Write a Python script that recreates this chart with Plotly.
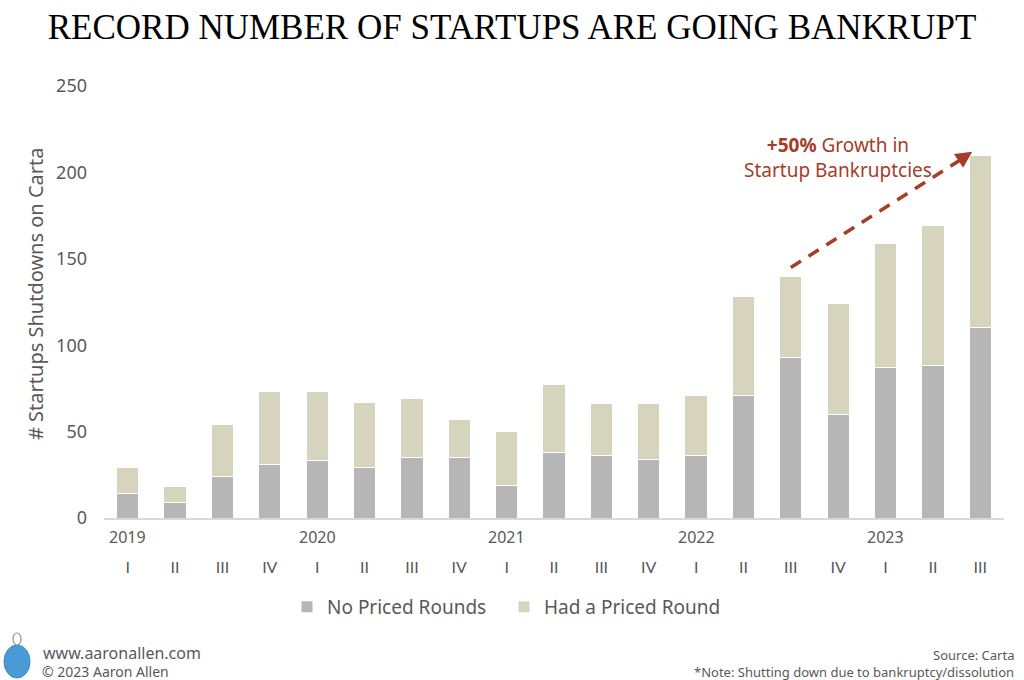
import plotly.graph_objects as go

years = ["2019", "2020", "2021", "2022", "2023"]
quarters = ["I", "II", "III", "IV", "I", "II", "III", "IV", "I", "II", "III", "IV",
            "I", "II", "III", "IV", "I", "II", "III"]
period_year = ["2019"] * 4 + ["2020"] * 4 + ["2021"] * 4 + ["2022"] * 4 + ["2023"] * 3
categories = [f"{y} {q}" for y, q in zip(period_year, quarters)]

no_priced = [14, 9, 24, 31, 33, 29, 35, 35, 19, 38, 36, 34, 36, 71, 93, 60, 87, 88, 110]
had_priced = [15, 9, 30, 42, 40, 38, 34, 22, 31, 39, 30, 32, 35, 57, 47, 64, 72, 81, 100]

FONT = "'Noto Sans', Lato, sans-serif"
GRAY_TXT = "#595959"
RED = "#a53d27"

L, R, T, B = 104, 20, 86, 162
PW, PH = 1024 - L - R, 680 - T - B


def px(xp):
    return (xp - L) / PW


def py(yp):
    return (680 - B - yp) / PH


fig = go.Figure()
fig.add_trace(go.Bar(x=categories, y=no_priced, name="No Priced Rounds",
                     marker=dict(color="#b6b6b6", line=dict(color="white", width=1))))
fig.add_trace(go.Bar(x=categories, y=had_priced, name="Had a Priced Round",
                     marker=dict(color="#d7d4be", line=dict(color="white", width=1))))

annotations = []
# year labels under the first quarter of each year
for y in years:
    idx = period_year.index(y)
    annotations.append(dict(x=categories[idx], y=0, xref="x", yref="paper", yshift=-19,
                            text=y, showarrow=False, xanchor="center", yanchor="middle",
                            font=dict(family=FONT, size=16, color=GRAY_TXT)))

# y axis title
annotations.append(dict(x=px(35), y=py(294), xref="paper", yref="paper", textangle=-90,
                        xanchor="center", yanchor="middle",
                        text="# Startups Shutdowns on Carta", showarrow=False,
                        font=dict(family=FONT, size=20, color=GRAY_TXT)))

# growth annotation text
annotations.append(dict(x=px(838), y=py(157), xref="paper", yref="paper",
                        xanchor="center", yanchor="middle",
                        text="<b>+50%</b> Growth in<br>Startup Bankruptcies", showarrow=False,
                        align="center", font=dict(family=FONT, size=19, color=RED)))

# arrow line (dashed) from bar 15 top to bar 19 top
x0, y0 = 14.0, 145
x1, y1 = 17.83, 212
fig.add_shape(type="line", xref="x", yref="y", x0=x0, y0=y0, x1=x1 - 0.12, y1=y1 - 2.5,
              line=dict(color=RED, width=3.5, dash="12px,9px"))
annotations.append(dict(x=x1, y=y1, xref="x", yref="y", ax=-9, ay=6, text="",
                        showarrow=True, arrowhead=2, arrowsize=1.1, arrowwidth=3,
                        arrowcolor=RED))

footer = [
    dict(text="www.aaronallen.com", x=41, y=653, anchor="left", size=16),
    dict(text="© 2023 Aaron Allen", x=40, y=671, anchor="left", size=14),
    dict(text="Source: Carta", x=1016, y=655, anchor="right", size=13),
    dict(text="*Note: Shutting down due to bankruptcy/dissolution", x=1016, y=672, anchor="right", size=13),
]
for f in footer:
    annotations.append(dict(text=f["text"], x=px(f["x"]), y=py(f["y"]),
                            xref="paper", yref="paper", xanchor=f["anchor"], yanchor="middle",
                            showarrow=False, font=dict(family=FONT, size=f["size"], color=GRAY_TXT)))

# simple logo globe
fig.add_shape(type="circle", xref="paper", yref="paper",
              x0=px(4), x1=px(30), y0=py(678), y1=py(645),
              fillcolor="#4a9ad6", line=dict(color="#3b87c4", width=1))
fig.add_shape(type="circle", xref="paper", yref="paper",
              x0=px(13), x1=px(21), y0=py(645), y1=py(633),
              fillcolor="white", line=dict(color="#8a949e", width=1.2))

fig.update_layout(
    width=1024, height=680,
    barmode="stack", bargap=0.53,
    margin=dict(l=L, r=R, t=T, b=B),
    paper_bgcolor="white", plot_bgcolor="white",
    title=dict(text="RECORD NUMBER OF STARTUPS ARE GOING BANKRUPT", x=0.5, xref="container",
               xanchor="center", y=1 - 27 / 680, yanchor="middle",
               font=dict(family="'Liberation Serif', 'Times New Roman', serif", size=35, color="black")),
    legend=dict(orientation="h", x=px(504), xanchor="center", y=py(607), yanchor="middle",
                font=dict(family=FONT, size=19, color=GRAY_TXT), entrywidth=172,
                itemwidth=30, traceorder="normal"),
    xaxis=dict(type="category", tickvals=categories, ticktext=quarters, showgrid=False,
               showline=True, linecolor="#d9d9d9", linewidth=1.5, ticks="",
               ticklabelstandoff=34, range=[-0.5, 18.5],
               tickfont=dict(family="Lato, sans-serif", size=16, color=GRAY_TXT)),
    yaxis=dict(range=[0, 250], tickvals=[0, 50, 100, 150, 200, 250], showgrid=False,
               zeroline=False, showline=False, ticks="", ticklabelstandoff=16,
               tickfont=dict(family=FONT, size=18, color=GRAY_TXT)),
    annotations=annotations,
    showlegend=True,
)

fig.write_html("out.html", config={"displayModeBar": False},
               post_script="document.body.style.margin='0';")
